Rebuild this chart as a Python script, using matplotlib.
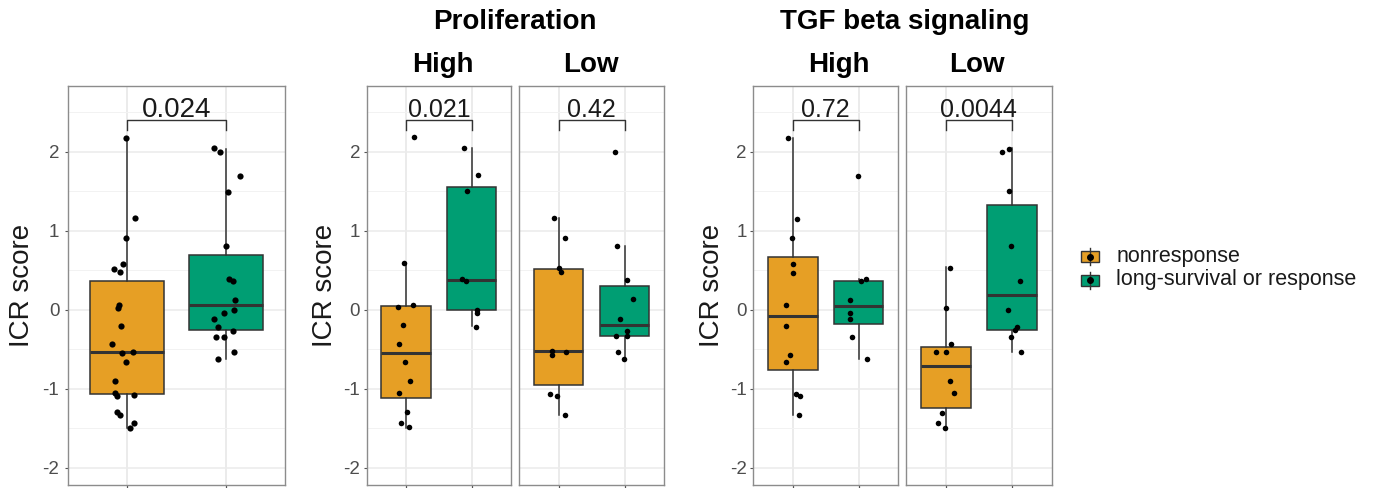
import matplotlib
matplotlib.use("Agg")
import matplotlib.pyplot as plt
from matplotlib.patches import Rectangle
from matplotlib.lines import Line2D

plt.rcParams['font.family'] = ['Liberation Sans', 'DejaVu Sans']
plt.rcParams['axes.unicode_minus'] = False

groups = ["nonresponse", "long-survival or response"]
colors = ["#E69F25", "#009E73"]

# ---- data (ICR score), jitter = x offset of each dot ----
# all patients
all_nr = [2.17, 1.16, 0.91, 0.52, 0.58, 0.47, 0.06, 0.02, -0.21, -0.44, -0.55,
          -0.54, -0.66, -0.90, -1.06, -1.09, -1.08, -1.30, -1.33, -1.44, -1.50]
all_nr_jit = [-0.01, 0.08, -0.01, -0.13, -0.04, -0.07, -0.08, -0.09, -0.06, -0.15, -0.05,
              0.06, -0.01, -0.12, -0.12, -0.10, 0.07, -0.10, -0.07, 0.07, 0.03]
all_lr = [2.04, 2.00, 1.69, 1.49, 0.80, 0.39, 0.36, 0.12, -0.01, -0.04, -0.12,
          -0.22, -0.35, -0.35, -0.27, -0.54, -0.63]
all_lr_jit = [-0.12, -0.06, 0.14, 0.02, 0.00, 0.03, 0.07, 0.09, 0.08, -0.02, -0.12,
              -0.08, -0.10, -0.02, 0.07, 0.08, -0.08]

# proliferation high / low
prolif_high_nr = [2.18, 0.59, 0.03, 0.06, -0.20, -0.43, -0.66, -0.90, -1.05, -1.30, -1.43, -1.49]
prolif_high_nr_jit = [0.12, -0.03, -0.13, 0.11, -0.04, -0.10, -0.02, 0.06, -0.10, 0.02, -0.08, 0.04]
prolif_high_lr = [2.04, 1.70, 1.50, 0.39, 0.36, -0.01, -0.04, -0.22]
prolif_high_lr_jit = [-0.12, 0.09, -0.07, -0.15, -0.08, 0.08, 0.08, 0.06]
prolif_low_nr = [1.16, 0.91, 0.53, 0.47, -0.53, -0.57, -0.54, -1.07, -1.09, -1.33]
prolif_low_nr_jit = [-0.08, 0.09, 0.00, 0.03, -0.10, -0.10, 0.11, -0.13, -0.02, 0.10]
prolif_low_lr = [2.00, 0.80, 0.37, 0.13, -0.12, -0.27, -0.34, -0.34, -0.54, -0.63]
prolif_low_lr_jit = [-0.14, -0.11, 0.04, 0.13, -0.07, 0.04, -0.13, 0.03, -0.10, -0.01]

# TGF beta signaling high / low
tgf_high_nr = [2.17, 1.15, 0.91, 0.58, 0.46, 0.06, -0.21, -0.57, -0.66, -1.07, -1.09, -1.34]
tgf_high_nr_jit = [-0.08, 0.07, -0.01, 0.00, 0.00, -0.10, -0.10, -0.04, -0.10, 0.05, 0.11, 0.09]
tgf_high_lr = [1.69, 0.39, 0.36, 0.12, -0.04, -0.12, -0.35, -0.63]
tgf_high_lr_jit = [-0.01, 0.11, 0.03, -0.13, -0.13, -0.13, -0.11, 0.13]
tgf_low_nr = [0.53, 0.02, -0.44, -0.54, -0.54, -0.91, -1.06, -1.31, -1.44, -1.50]
tgf_low_nr_jit = [0.07, 0.01, 0.08, -0.15, 0.01, 0.06, 0.12, -0.05, -0.11, -0.01]
tgf_low_lr = [1.99, 2.03, 1.50, 0.80, 0.36, -0.01, -0.22, -0.26, -0.35, -0.54]
tgf_low_lr_jit = [-0.15, -0.05, -0.05, -0.02, 0.12, -0.06, 0.07, 0.04, -0.01, 0.14]

# box stats: [lower whisker, q1, median, q3, upper whisker]
all_nr_box = [-1.50, -1.07, -0.54, 0.36, 2.17]
all_lr_box = [-0.63, -0.26, 0.055, 0.69, 2.03]
prolif_high_nr_box = [-1.50, -1.12, -0.55, 0.04, 0.59]
prolif_high_lr_box = [-0.21, -0.01, 0.375, 1.55, 2.04]
prolif_low_nr_box = [-1.33, -0.95, -0.53, 0.51, 1.16]
prolif_low_lr_box = [-0.63, -0.34, -0.19, 0.30, 0.80]
tgf_high_nr_box = [-1.33, -0.77, -0.08, 0.66, 2.17]
tgf_high_lr_box = [-0.63, -0.18, 0.04, 0.36, 0.39]
tgf_low_nr_box = [-1.50, -1.24, -0.72, -0.47, 0.54]
tgf_low_lr_box = [-0.54, -0.26, 0.18, 1.32, 2.04]

pvals = ["0.024", "0.021", "0.42", "0.72", "0.0044"]

W, H = 1378, 488
fig = plt.figure(figsize=(W / 100, H / 100), dpi=100)


def add_ax(left, right, top=86, bottom=485):
    return fig.add_axes([left / W, 1 - bottom / H, (right - left) / W, (bottom - top) / H])


def draw_panel(ax, nr, nr_jit, lr, lr_jit, nr_box, lr_box, pval, pfs, dot, ylab=True, lpad=2.3):
    ax.set_xlim(0.4, 2.6)
    ax.set_ylim(-2.22, 2.83)
    ax.set_yticks([-2, -1, 0, 1, 2])
    ax.set_yticks([-1.5, -0.5, 0.5, 1.5, 2.5], minor=True)
    ax.set_xticks([1, 2])
    ax.grid(True, which='major', color='#EBEBEB', lw=1.1)
    ax.grid(True, which='minor', axis='y', color='#F2F2F2', lw=0.7)
    ax.set_axisbelow(True)
    for s in ax.spines.values():
        s.set_color('#8C8C8C')
        s.set_linewidth(1.0)
    ax.tick_params(axis='both', which='major', length=2.5, color='#555555',
                   labelcolor='#4D4D4D', labelsize=13.5, pad=lpad)
    ax.tick_params(axis='x', labelbottom=False)
    ax.tick_params(axis='y', which='minor', length=0)
    if not ylab:
        ax.tick_params(axis='y', labelleft=False, left=False)

    stats = []
    for box in (nr_box, lr_box):
        stats.append(dict(whislo=box[0], q1=box[1], med=box[2], q3=box[3], whishi=box[4], fliers=[]))
    bp = ax.bxp(stats, positions=[1, 2], widths=0.75, patch_artist=True, showcaps=False,
                showfliers=False,
                boxprops=dict(edgecolor='#333333', lw=1.1),
                whiskerprops=dict(color='#333333', lw=1.1),
                medianprops=dict(color='#333333', lw=2.2))
    for patch, c in zip(bp['boxes'], colors):
        patch.set_facecolor(c)

    for i, (vals, jit) in enumerate([(nr, nr_jit), (lr, lr_jit)]):
        ax.scatter([i + 1 + j for j in jit], vals, s=dot, color='black', zorder=4, lw=0)

    ax.plot([1, 1, 2, 2], [2.27, 2.40, 2.40, 2.27], color='#333333', lw=1.0)
    ax.text(1.5, 2.44, pval, ha='center', va='baseline', fontsize=pfs, color='#1A1A1A')


ax1 = add_ax(67.7, 285)
draw_panel(ax1, all_nr, all_nr_jit, all_lr, all_lr_jit, all_nr_box, all_lr_box,
           pvals[0], 20, 20, lpad=3.5)

ax2h = add_ax(366.7, 511)
draw_panel(ax2h, prolif_high_nr, prolif_high_nr_jit, prolif_high_lr, prolif_high_lr_jit,
           prolif_high_nr_box, prolif_high_lr_box, pvals[1], 18, 16)
ax2l = add_ax(519.3, 664)
draw_panel(ax2l, prolif_low_nr, prolif_low_nr_jit, prolif_low_lr, prolif_low_lr_jit,
           prolif_low_nr_box, prolif_low_lr_box, pvals[2], 18, 16, ylab=False)

ax3h = add_ax(753.3, 898.3)
draw_panel(ax3h, tgf_high_nr, tgf_high_nr_jit, tgf_high_lr, tgf_high_lr_jit,
           tgf_high_nr_box, tgf_high_lr_box, pvals[3], 18, 16)
ax3l = add_ax(906, 1051.7)
draw_panel(ax3l, tgf_low_nr, tgf_low_nr_jit, tgf_low_lr, tgf_low_lr_jit,
           tgf_low_nr_box, tgf_low_lr_box, pvals[4], 18, 16, ylab=False)

# y labels
for x in (21.7, 325.5, 712):
    fig.text(x / W, 1 - 285.5 / H, "ICR score", rotation=90, ha='center', va='center',
             fontsize=20, color='#1A1A1A')

# facet titles
fig.text(515 / W, 1 - 29 / H, "Proliferation", ha='center', va='baseline',
         fontsize=20, fontweight='bold')
fig.text(905 / W, 1 - 29 / H, "TGF beta signaling", ha='center', va='baseline',
         fontsize=20, fontweight='bold')
for x, lab in [(443, "High"), (591, "Low"), (839, "High"), (977, "Low")]:
    fig.text(x / W, 1 - 72 / H, lab, ha='center', va='baseline', fontsize=20, fontweight='bold')

# legend (box glyph + dot)
for i, (lab, c) in enumerate(zip(groups, colors)):
    yc = 256.5 + 23.5 * i
    xc = 1090
    fig.add_artist(Line2D([xc / W, xc / W], [1 - (yc - 8.5) / H, 1 - (yc + 8.5) / H],
                          color='#333333', lw=1.0, transform=fig.transFigure))
    fig.add_artist(Rectangle(((xc - 9) / W, 1 - (yc + 5.5) / H), 18 / W, 11 / H,
                             facecolor=c, edgecolor='#333333', lw=1.0,
                             transform=fig.transFigure))
    fig.add_artist(Line2D([xc / W], [1 - yc / H], marker='o', markersize=4.0, color='black',
                          lw=0, transform=fig.transFigure))
    fig.text(1116.5 / W, 1 - yc / H, lab, ha='left', va='center', fontsize=15.5, color='#1A1A1A')

fig.savefig("out.png", dpi=100)
